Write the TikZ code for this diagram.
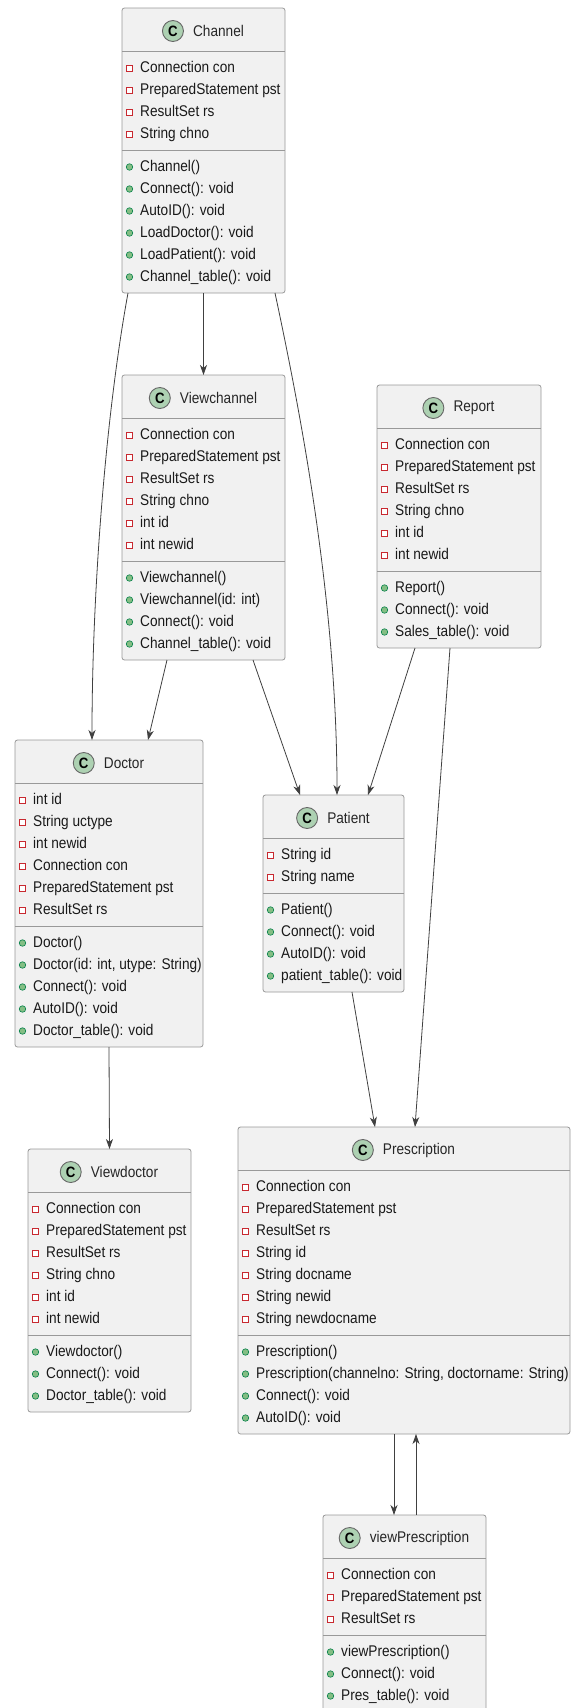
\documentclass[tikz,border=0pt]{standalone}
\usepackage{fontspec}
\setmainfont[FakeStretch=0.88]{Liberation Sans}
\usetikzlibrary{arrows.meta,positioning,fit}

\definecolor{boxfill}{HTML}{F1F1F1}
\definecolor{boxline}{HTML}{999999}
\definecolor{arrowgray}{HTML}{404040}
\definecolor{privred}{HTML}{C82930}
\definecolor{pubgreen}{HTML}{038048}
\definecolor{publight}{HTML}{84BE84}
\definecolor{badgegreen}{HTML}{ADD1B2}

% #1 name, #2 left, #3 right, #4 top, #5 title, #6 fields, #7 methods
\newcommand{\umlclass}[7]{%
  \xdef\nfield{0}\foreach \row [count=\nr] in {#6} {\xdef\nfield{\nr}}%
  \xdef\nmeth{0}\foreach \row [count=\nr] in {#7} {\xdef\nmeth{\nr}}%
  \pgfmathsetmacro{\ya}{#4+43}%
  \pgfmathsetmacro{\yb}{\ya+22*\nfield+11}%
  \pgfmathsetmacro{\yc}{\yb+22*\nmeth+11}%
  \draw[classbox] (#2,#4) rectangle (#3,\yc);
  \draw[sepline] (#2,\ya) -- (#3,\ya) (#2,\yb) -- (#3,\yb);
  \node[fit={(#2,#4) (#3,\yc)}, inner sep=0pt, outer sep=0pt] (#1) {};
  \node[classname] (#1-title) at ({(#2+#3)/2+15},#4+23) {#5};
  \node[badge, left=9pt of #1-title] (#1-badge) {C};
  \foreach \row [count=\nr] in {#6} {
    \node[privmark] at (#2+7.5,{\ya+17+22*(\nr-1)}) {};
    \node[member] at (#2+18,{\ya+17+22*(\nr-1)}) {\row};
  }
  \foreach \row [count=\nr] in {#7} {
    \node[pubmark] at (#2+7.5,{\yb+17+22*(\nr-1)}) {};
    \node[member] at (#2+18,{\yb+17+22*(\nr-1)}) {\row};
  }
}

\begin{document}
\begin{tikzpicture}[
        x=1pt, y=-1pt,
        >={Stealth[length=10pt,width=7pt,inset=3pt]},
        classbox/.style={draw=boxline, fill=boxfill, line width=0.8pt, rounded corners=2.5pt},
        sepline/.style={draw=boxline, line width=0.8pt},
        classname/.style={inner sep=0pt, font=\fontsize{15.5}{18}\selectfont, text=black!85},
        badge/.style={circle, draw=black!60, fill=badgegreen, minimum size=21pt, inner sep=0pt,
            line width=0.9pt, font=\bfseries\fontsize{15}{15}\selectfont},
        member/.style={anchor=west, inner sep=0pt, text height=11pt, text depth=3pt,
            font=\fontsize{15.5}{18}\selectfont, text=black!90},
        privmark/.style={draw=privred, fill=white, minimum size=6pt, inner sep=0pt, line width=0.7pt},
        pubmark/.style={circle, draw=pubgreen, fill=publight, minimum size=6.5pt, inner sep=0pt, line width=0.6pt},
        dep/.style={->, draw=arrowgray, line width=0.8pt},
        ]
        \path[use as bounding box, fill=white] (0,0) rectangle (571,1708);

        \umlclass{channel}{122}{285}{8}{Channel}
            {Connection con, PreparedStatement pst, ResultSet rs, String chno}
            {Channel(), Connect(): void, AutoID(): void, LoadDoctor(): void, LoadPatient(): void, Channel\_table(): void}
        \umlclass{viewchannel}{122}{285}{375}{Viewchannel}
            {Connection con, PreparedStatement pst, ResultSet rs, String chno, int id, int newid}
            {Viewchannel(), Viewchannel(id: int), Connect(): void, Channel\_table(): void}
        \umlclass{report}{377}{541}{385}{Report}
            {Connection con, PreparedStatement pst, ResultSet rs, String chno, int id, int newid}
            {Report(), Connect(): void, Sales\_table(): void}
        \umlclass{doctor}{15}{203}{740}{Doctor}
            {int id, String uctype, int newid, Connection con, PreparedStatement pst, ResultSet rs}
            {Doctor(), {Doctor(id: int, utype: String)}, Connect(): void, AutoID(): void, Doctor\_table(): void}
        \umlclass{patient}{263}{404}{795}{Patient}
            {String id, String name}
            {Patient(), Connect(): void, AutoID(): void, patient\_table(): void}
        \umlclass{viewdoctor}{28}{191}{1149}{Viewdoctor}
            {Connection con, PreparedStatement pst, ResultSet rs, String chno, int id, int newid}
            {Viewdoctor(), Connect(): void, Doctor\_table(): void}
        \umlclass{prescription}{238}{570}{1127}{Prescription}
            {Connection con, PreparedStatement pst, ResultSet rs, String id, String docname, String newid, String newdocname}
            {Prescription(), {Prescription(channelno: String, doctorname: String)}, Connect(): void, AutoID(): void}
        \umlclass{viewpres}{323}{486}{1515}{viewPrescription}
            {Connection con, PreparedStatement pst, ResultSet rs}
            {viewPrescription(), Connect(): void, Pres\_table(): void}

        % dependencies
        \draw[dep] (channel.south) -- (viewchannel.north);
        \draw[dep] ([xshift=-75.5pt]channel.south) .. controls +(-22,120) and +(0,-150) .. ([xshift=-17pt]doctor.north);
        \draw[dep] ([xshift=71.5pt]channel.south) .. controls +(25,117) and +(0,-195) .. ([xshift=3.5pt]patient.north);
        \draw[dep] ([xshift=-36.5pt]viewchannel.south) -- ([xshift=39pt]doctor.north);
        \draw[dep] ([xshift=49.5pt]viewchannel.south) -- ([xshift=-33.5pt]patient.north);
        \draw[dep] ([xshift=-44pt]report.south) -- ([xshift=34.5pt]patient.north);
        \draw[dep] ([xshift=-9pt]report.south) -- ([xshift=11pt]prescription.north);
        \draw[dep] ([xshift=18.5pt]patient.south) -- ([xshift=-29pt]prescription.north);
        \draw[dep] (doctor.south) -- (viewdoctor.north);
        \draw[dep] ([xshift=-10pt]prescription.south) -- ([xshift=-10.5pt]viewpres.north);
        \draw[dep] ([xshift=11.5pt]viewpres.north) -- ([xshift=12pt]prescription.south);
\end{tikzpicture}
\end{document}
